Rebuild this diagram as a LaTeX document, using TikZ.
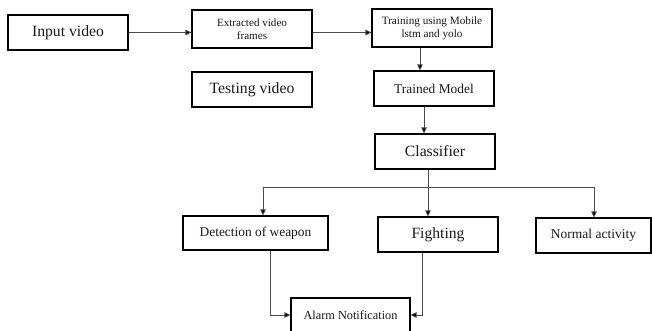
\documentclass[tikz,border=0pt]{standalone}
\usepackage{fontspec}
\setmainfont{Liberation Serif}
\usetikzlibrary{arrows.meta}
\newcommand{\fsz}[1]{\fontsize{#1}{#1}\selectfont}
\begin{document}
\begin{tikzpicture}[x=1pt,y=-1pt,
  box/.style={draw=black,line width=1.1pt,inner sep=0pt,align=center,
    minimum width=120pt,minimum height=35pt,text=black!90},
  conn/.style={draw=black!70,line width=0.8pt},
  arr/.style={conn,-{Triangle[length=6pt,width=5.5pt,fill=black]}}]
\useasboundingbox[fill=white] (0,0) rectangle (652,330);
\clip (0,0) rectangle (652,330);

% top row
\node[box] (in) at (68,32.5) {\fsz{15.7}Input video};
\node[box,minimum height=38pt] (ext) at (252,29) {\fsz{11.1}Extracted video\\[1pt]\fsz{11.1}frames};
\node[box] (test) at (252,89.5) {\fsz{15.7}Testing video};
\node[box,minimum height=38pt] (train) at (432,28) {\fsz{11.2}Training using Mobile\\[1pt]\fsz{11.2}lstm and yolo};

% model column
\node[box] (model) at (434,88.5) {\fsz{13.4}Trained Model};
\node[box] (cls) at (435,151.5) {\fsz{15.7}Classifier};

% outcomes
\node[box,minimum width=145pt,minimum height=34pt] (det) at (255.5,233) {\raisebox{2pt}{\fsz{13.4}Detection of weapon}};
\node[box] (fig) at (438,234.5) {\fsz{15.6}Fighting};
\node[box,minimum width=115pt] (norm) at (593.5,235.5) {\raisebox{2pt}{\fsz{13.5}Normal activity}};
\node[box,minimum width=119pt,minimum height=34pt] (alarm) at (350.5,315) {\fsz{12.3}Alarm Notification};

% pipeline connectors
\draw[arr] (in.east) -- (in.east -| ext.west);
\draw[arr] (ext.east |- in.east) -- (train.west |- in.east);
\draw[arr] ([xshift=-12pt]train.south) -- ([xshift=-12pt]train.south |- model.north);
\draw[arr] ([xshift=-10pt]model.south) -- ([xshift=-10pt]model.south |- cls.north);

% classifier branches
\coordinate (split) at (428,187);
\coordinate (bl) at (263,187);
\coordinate (br) at (594,187);
\draw[conn] (cls.south -| split) -- (split);
\draw[conn] (bl) -- (br);
\draw[arr] (bl) -- (bl |- det.north);
\draw[arr] (split) -- (split |- fig.north);
\draw[arr] (br) -- (br |- norm.north);

% alarm inputs
\draw[arr] ([xshift=14.5pt]det.south) |- (alarm.west);
\draw[arr] ([xshift=-16pt]fig.south) |- (alarm.east);
\end{tikzpicture}
\end{document}
